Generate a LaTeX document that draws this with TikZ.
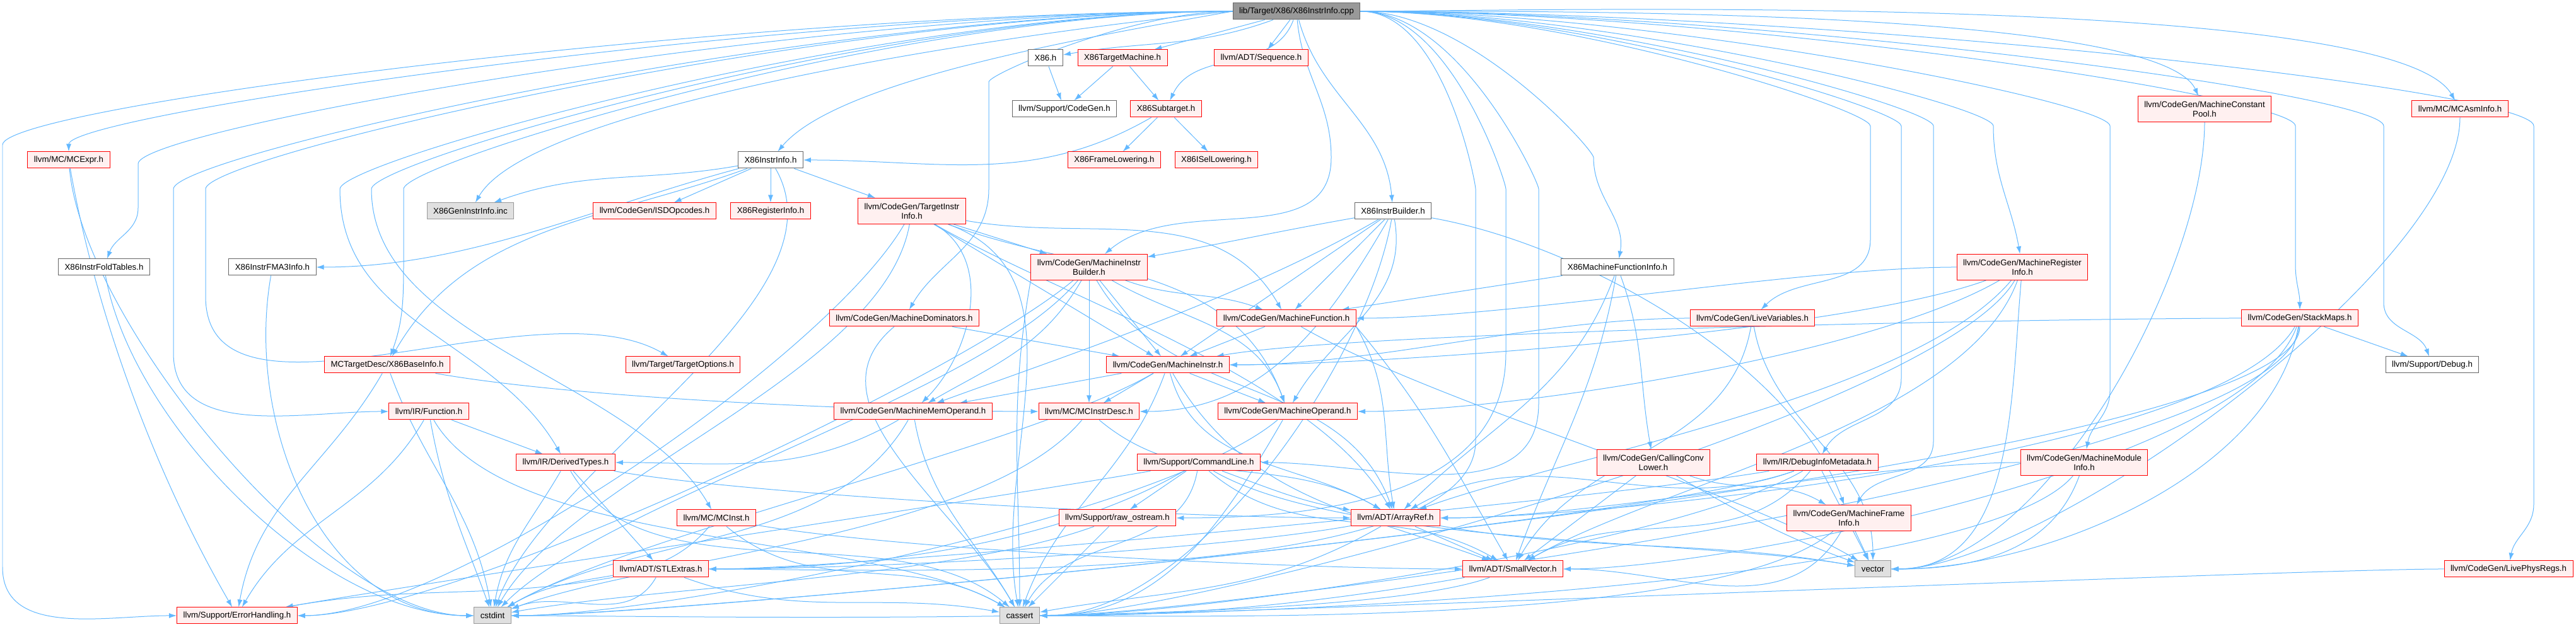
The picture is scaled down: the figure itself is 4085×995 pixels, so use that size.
\documentclass[tikz,border=0pt]{standalone}
\usepackage{fontspec}
\newfontfamily\doxfont{Liberation Sans}
\usepackage{tikz}
\usetikzlibrary{arrows.meta,positioning}
\pgfdeclarelayer{background}
\pgfsetlayers{background,main}
\definecolor{edgeblue}{HTML}{63B8FF}
\definecolor{hdrfill}{HTML}{FFF0F0}
\definecolor{sysfill}{HTML}{E0E0E0}
\definecolor{sysline}{HTML}{999999}
\definecolor{plainline}{HTML}{666666}
\definecolor{rootfill}{HTML}{999999}

\begin{document}
\begin{tikzpicture}[
    x=0.1pt, y=0.1pt, >={Latex[length=1.2pt,width=0.8pt]},
    filebox/.style={rectangle, font=\doxfont\fontsize{1.33}{1.5}\selectfont,
        inner xsep=1pt, inner ysep=0.2pt, minimum height=2.6pt,
        line width=0.1pt, align=center},
    hdrbox/.style={filebox, draw=red, fill=hdrfill},
    plainbox/.style={filebox, draw=plainline, fill=white},
    sysbox/.style={filebox, draw=sysline, fill=sysfill},
    srcbox/.style={filebox, draw=plainline, fill=rootfill},
    tallbox/.style={minimum height=4.1pt},
    incl/.style={->, draw=edgeblue, line width=0.1pt, max distance=24pt},
    dropl/.style={out=180, in=90, out looseness=1, in looseness=0.08, out max distance=400pt},
    dropr/.style={out=0, in=90, out looseness=1, in looseness=0.08, out max distance=400pt}
  ]
  \useasboundingbox (0,0) rectangle (4085,-995);

  % files
  \node[srcbox]   (root)     at (2056,-18)  {lib/Target/X86/X86InstrInfo.cpp};
  \node[plainbox] (x86h)     at (1658,-92)  {X86.h};
  \node[hdrbox]   (tm)       at (1780,-92)  {X86TargetMachine.h};
  \node[hdrbox]   (seq)      at (2000,-92)  {llvm/ADT/Sequence.h};
  \node[plainbox] (cgen)     at (1688,-173) {llvm/Support/CodeGen.h};
  \node[hdrbox]   (sub)      at (1849,-173) {X86Subtarget.h};
  \node[hdrbox,tallbox] (mcp) at (3496,-173) {llvm/CodeGen/MachineConstant\\Pool.h};
  \node[hdrbox]   (mcasm)    at (3901,-173) {llvm/MC/MCAsmInfo.h};
  \node[hdrbox]   (mcexpr)   at (109,-254)  {llvm/MC/MCExpr.h};
  \node[plainbox] (iinfo)    at (1222,-254) {X86InstrInfo.h};
  \node[hdrbox]   (frame)    at (1767,-254) {X86FrameLowering.h};
  \node[hdrbox]   (isel)     at (1929,-254) {X86ISelLowering.h};
  \node[sysbox]   (geninc)   at (746,-335)  {X86GenInstrInfo.inc};
  \node[hdrbox]   (isd)      at (1038,-335) {llvm/CodeGen/ISDOpcodes.h};
  \node[hdrbox]   (reginfo)  at (1222,-335) {X86RegisterInfo.h};
  \node[hdrbox,tallbox] (tii) at (1446,-335) {llvm/CodeGen/TargetInstr\\Info.h};
  \node[plainbox] (ibuild)   at (2209,-335) {X86InstrBuilder.h};
  \node[plainbox] (fold)     at (165,-424)  {X86InstrFoldTables.h};
  \node[plainbox] (fma3)     at (432,-424)  {X86InstrFMA3Info.h};
  \node[hdrbox,tallbox] (mib) at (1727,-424) {llvm/CodeGen/MachineInstr\\Builder.h};
  \node[plainbox] (mfi)      at (2565,-424) {X86MachineFunctionInfo.h};
  \node[hdrbox,tallbox] (mri) at (3207,-424) {llvm/CodeGen/MachineRegister\\Info.h};
  \node[hdrbox]   (mdom)     at (1434,-505) {llvm/CodeGen/MachineDominators.h};
  \node[hdrbox]   (mf)       at (2040,-505) {llvm/CodeGen/MachineFunction.h};
  \node[hdrbox]   (lv)       at (2779,-505) {llvm/CodeGen/LiveVariables.h};
  \node[hdrbox]   (smaps)    at (3647,-505) {llvm/CodeGen/StackMaps.h};
  \node[hdrbox]   (baseinfo) at (614,-579)  {MCTargetDesc/X86BaseInfo.h};
  \node[hdrbox]   (topt)     at (1083,-579) {llvm/Target/TargetOptions.h};
  \node[hdrbox]   (mi)       at (1852,-579) {llvm/CodeGen/MachineInstr.h};
  \node[plainbox] (debug)    at (3857,-579) {llvm/Support/Debug.h};
  \node[hdrbox]   (func)     at (680,-653)  {llvm/IR/Function.h};
  \node[hdrbox]   (mmo)      at (1448,-653) {llvm/CodeGen/MachineMemOperand.h};
  \node[hdrbox]   (mcid)     at (1727,-653) {llvm/MC/MCInstrDesc.h};
  \node[hdrbox]   (mo)       at (2042,-653) {llvm/CodeGen/MachineOperand.h};
  \node[hdrbox]   (dtypes)   at (897,-734)  {llvm/IR/DerivedTypes.h};
  \node[hdrbox]   (cl)       at (1901,-734) {llvm/Support/CommandLine.h};
  \node[hdrbox,tallbox] (ccl) at (2622,-734) {llvm/CodeGen/CallingConv\\Lower.h};
  \node[hdrbox]   (dim)      at (2882,-734) {llvm/IR/DebugInfoMetadata.h};
  \node[hdrbox,tallbox] (mmi) at (3305,-734) {llvm/CodeGen/MachineModule\\Info.h};
  \node[hdrbox]   (mcinst)   at (1136,-822) {llvm/MC/MCInst.h};
  \node[hdrbox]   (rawos)    at (1772,-822) {llvm/Support/raw\_ostream.h};
  \node[hdrbox]   (aref)     at (2213,-822) {llvm/ADT/ArrayRef.h};
  \node[hdrbox,tallbox] (mfinfo) at (2932,-822) {llvm/CodeGen/MachineFrame\\Info.h};
  \node[hdrbox]   (stl)      at (1048,-903) {llvm/ADT/STLExtras.h};
  \node[hdrbox]   (svec)     at (2399,-903) {llvm/ADT/SmallVector.h};
  \node[sysbox]   (vector)   at (2970,-903) {vector};
  \node[hdrbox]   (lpr)      at (3978,-903) {llvm/CodeGen/LivePhysRegs.h};
  \node[hdrbox]   (err)      at (376,-977)  {llvm/Support/ErrorHandling.h};
  \node[sysbox]   (cstdint)  at (781,-977)  {cstdint};
  \node[sysbox]   (cassert)  at (1617,-977) {cassert};

  \begin{pgfonlayer}{background}
  % includes of the source file, to the left
  \draw[incl] (root.west) to[dropl] (mcexpr);
  \draw[incl] (root.west) to[dropl] (4,-230) -- (4,-900) to[out=-90,in=180] (err);
  \draw[incl] (root.west) to[dropl] (219,-260) -- (219,-330) to[out=-90,in=70] (fold);
  \draw[incl] (root.west) to[dropl] (275,-300) -- (275,-560) to[out=-90,in=180] (func);
  \draw[incl] (root.west) to[dropl] (326,-300) -- (326,-470) to[out=-90,in=150] (topt);
  \draw[incl] (root.west) to[dropl] (539,-300) to[out=-90,in=120] (dtypes);
  \draw[incl] (root.west) to[dropl] (589,-300) to[out=-90,in=120] (mcinst);
  \draw[incl] (root.west) to[dropl] (640,-300) -- (640,-420) to[out=-90,in=70] (baseinfo);
  \draw[incl] (root.west) to[out=185,in=60,in looseness=0.4] (geninc);
  \draw[incl] (root.west) to[out=190,in=50,in looseness=0.5] (iinfo);
  \draw[incl] (root.west) to[dropl] (1568,-130) -- (1568,-300) to[out=-90,in=60] (mdom);
  % includes of the source file, downwards
  \draw[incl] (root) to[out=200,in=10] (x86h);
  \draw[incl] (root) -- (tm);
  \draw[incl] (root) -- (seq);
  \draw[incl] (root) to[out=-110,in=65] (sub);
  \draw[incl] (root) to[out=-75,in=95] (ibuild);
  \draw[incl] (root) to[out=-85,in=90] (2111,-250) to[out=-90,in=40] (mib);
  % includes of the source file, to the right
  \draw[incl] (root.east) to[dropr] (2340,-300) -- (2340,-700) to[out=-90,in=0] (stl);
  \draw[incl] (root.east) to[dropr] (2388,-300) -- (2388,-560) to[out=-90,in=0] (rawos);
  \draw[incl] (root.east) to[dropr] (2440,-300) -- (2440,-640) to[out=-90,in=0] (cl);
  \draw[incl] (root.east) to[dropr] (2527,-250) to[out=-90,in=80] (mfi);
  \draw[incl] (root.east) to[dropr] (2966,-200) -- (2966,-380) to[out=-90,in=45] (lv);
  \draw[incl] (root.east) to[dropr] (3015,-200) -- (3015,-600) to[out=-90,in=60] (dim);
  \draw[incl] (root.east) to[dropr] (3066,-200) -- (3066,-700) to[out=-90,in=60] (mfinfo);
  \draw[incl] (root.east) to[dropr] (3161,-200) to[out=-90,in=100] (mri);
  \draw[incl] (root.east) to[dropr] (3346,-200) -- (3346,-620) to[out=-90,in=80] (mmi);
  \draw[incl] (root.east) to[out=0,in=115,in looseness=0.3] (mcp);
  \draw[incl] (root.east) to[dropr] (3640,-200) -- (3640,-420) to[out=-90,in=90] (smaps);
  \draw[incl] (root.east) to[dropr] (3780,-200) -- (3780,-480) to[out=-90,in=110] (debug);
  \draw[incl] (root.east) to[out=0,in=120,in looseness=0.3] (mcasm);
  \draw[incl] (root.east) to[dropr] (4018,-200) -- (4018,-800) to[out=-90,in=80] (lpr);

  % target headers
  \draw[incl] (x86h) -- (cgen);
  \draw[incl] (tm) -- (cgen);
  \draw[incl] (tm) -- (sub);
  \draw[incl] (sub) -- (frame);
  \draw[incl] (sub) -- (isel);
  \draw[incl] (sub) to[out=-150,in=0] (iinfo);
  \draw[incl] (iinfo) to[out=190,in=20] (geninc);
  \draw[incl] (iinfo) -- (isd);
  \draw[incl] (iinfo) -- (reginfo);
  \draw[incl] (iinfo) -- (tii);
  \draw[incl] (iinfo) to[out=195,in=0] (fma3);
  \draw[incl] (iinfo) to[out=200,in=60] (baseinfo);
  \draw[incl] (iinfo) to[out=-60,in=70] (cstdint);
  \draw[incl] (ibuild) to[out=190,in=10] (mib);
  \draw[incl] (ibuild) -- (mf);
  \draw[incl] (ibuild) -- (mi);
  \draw[incl] (ibuild) to[out=-80,in=60] (mo);
  \draw[incl] (ibuild) to[out=-150,in=20] (mmo);
  \draw[incl] (ibuild) to[out=-120,in=0] (mcid);
  \draw[incl] (ibuild) to[out=-10,in=110] (mfinfo);
  \draw[incl] (ibuild) to[out=-100,in=0] (cassert);
  \draw[incl] (mfi) -- (mf);
  \draw[incl] (mfi) to[out=-70,in=100] (ccl);
  \draw[incl] (mfi) to[out=-100,in=70] (svec);
  \draw[incl] (mfi) to[out=-110,in=45] (aref);
  \draw[incl] (baseinfo) to[out=-10,in=180] (mcid);
  \draw[incl] (baseinfo) to[out=-120,in=80] (err);
  \draw[incl] (baseinfo) to[out=-70,in=100] (cstdint);
  \draw[incl] (fold) to[out=-80,in=180] (cstdint);
  \draw[incl] (fma3) to[out=-100,in=180] (cstdint);
  \draw[incl] (mcexpr) to[out=-80,in=120] (err);
  \draw[incl] (mcexpr) to[out=-85,in=180] (cstdint);

  % codegen headers
  \draw[incl] (tii) -- (mib);
  \draw[incl] (tii) -- (mi);
  \draw[incl] (tii) to[out=-10,in=120] (mf);
  \draw[incl] (tii) to[out=-20,in=110] (mo);
  \draw[incl] (tii) to[out=-30,in=45] (mmo);
  \draw[incl] (tii) to[out=-30,in=120] (aref);
  \draw[incl] (tii) to[out=-120,in=0] (err);
  \draw[incl] (tii) to[out=-100,in=60] (cstdint);
  \draw[incl] (tii) to[out=-20,in=100] (cassert);
  \draw[incl] (mib) to[out=-20,in=160] (mf);
  \draw[incl] (mib) -- (mi);
  \draw[incl] (mib) to[out=-30,in=110] (mo);
  \draw[incl] (mib) to[out=-120,in=30] (mmo);
  \draw[incl] (mib) -- (mcid);
  \draw[incl] (mib) to[out=-60,in=110] (aref);
  \draw[incl] (mib) to[out=-140,in=0] (err);
  \draw[incl] (mib) to[out=-130,in=45] (cstdint);
  \draw[incl] (mib.south west) to[out=-100,in=90] (cassert);
  \draw[incl] (mri) to[out=180,in=0] (mf);
  \draw[incl] (mri) to[out=-160,in=0] (mi);
  \draw[incl] (mri) to[out=-150,in=0] (mo);
  \draw[incl] (mri) to[out=-130,in=20] (aref);
  \draw[incl] (mri) to[out=-110,in=30] (svec);
  \draw[incl] (mri) to[out=-95,in=0] (vector);
  \draw[incl] (mri) to[out=-120,in=0] (cassert);
  \draw[incl] (mdom) -- (mi);
  \draw[incl] (mdom) to[out=-140,in=120] (cassert);
  \draw[incl] (mf) -- (mi);
  \draw[incl] (mf.south east) to[out=-60,in=100] (aref);
  \draw[incl] (mf.south east) to[out=-50,in=120] (svec);
  \draw[incl] (mf) to[out=-30,in=150] (vector);
  \draw[incl] (mi) -- (mmo);
  \draw[incl] (mi) -- (mcid);
  \draw[incl] (mi) -- (mo);
  \draw[incl] (mi) to[out=-75,in=150] (aref);
  \draw[incl] (mi) to[out=-60,in=160] (svec);
  \draw[incl] (mi) to[out=-110,in=70] (cassert);
  \draw[incl] (mi) to[out=-150,in=30] (cstdint);
  \draw[incl] (mo) to[out=-120,in=0] (cassert);
  \draw[incl] (mo) to[out=-140,in=0] (cstdint);
  \draw[incl] (mmo) to[out=-150,in=0] (dtypes);
  \draw[incl] (mmo) to[out=-120,in=30] (cstdint);
  \draw[incl] (mmo) to[out=-80,in=120] (cassert);
  \draw[incl] (mcid) to[out=-130,in=20] (cstdint);
  \draw[incl] (mcid) to[out=-40,in=150] (aref);
  \draw[incl] (lv) to[out=180,in=0] (mi);
  \draw[incl] (lv) to[out=-100,in=60] (svec);
  \draw[incl] (lv) to[out=-80,in=90] (vector);
  \draw[incl] (smaps) to[out=180,in=10] (mi);
  \draw[incl] (smaps) -- (debug);
  \draw[incl] (smaps) to[out=-110,in=0] (svec);
  \draw[incl] (smaps) to[out=-120,in=0] (aref);
  \draw[incl] (smaps) to[out=-100,in=0] (vector);
  \draw[incl] (smaps) to[out=-95,in=0] (cassert);
  \draw[incl] (smaps) to[out=-90,in=0] (cstdint);
  \draw[incl] (mcp) to[out=-90,in=0] (vector);
  \draw[incl] (mcasm) to[out=-90,in=0] (vector);
  \draw[incl] (lpr) to[out=180,in=0] (cassert);
  \draw[incl] (mmi) to[out=180,in=0] (aref);
  \draw[incl] (mmi) to[out=-110,in=0] (vector);
  \draw[incl] (mmi) to[out=-130,in=0] (cassert);
  \draw[incl] (ccl) -- (svec);
  \draw[incl] (ccl) to[out=-20,in=150] (mfinfo);
  \draw[incl] (ccl) to[out=-30,in=160] (vector);
  \draw[incl] (mfinfo) -- (vector);
  \draw[incl] (mfinfo) to[out=-120,in=0] (svec);
  \draw[incl] (mfinfo) to[out=-140,in=0] (cassert);
  \draw[incl] (dim) to[out=-160,in=30] (aref);
  \draw[incl] (dim) to[out=-130,in=30] (svec);
  \draw[incl] (dim) to[out=-170,in=0] (stl);
  \draw[incl] (dim) -- (vector);
  \draw[incl] (dim) to[out=-150,in=0] (cassert);
  \draw[incl] (dim) to[out=-160,in=0] (cstdint);

  % IR and support headers
  \draw[incl] (func) -- (dtypes);
  \draw[incl] (func) to[out=-80,in=110] (cstdint);
  \draw[incl] (func) to[out=-60,in=150] (cassert);
  \draw[incl] (func) to[out=-120,in=60] (err);
  \draw[incl] (dtypes) -- (stl);
  \draw[incl] (dtypes) to[out=-120,in=80] (cstdint);
  \draw[incl] (dtypes) to[out=-10,in=180] (aref);
  \draw[incl] (dtypes) to[out=-60,in=140] (cassert);
  \draw[incl] (mcinst) to[out=-10,in=180] (svec);
  \draw[incl] (mcinst) to[out=-130,in=30] (cstdint);
  \draw[incl] (mcinst) to[out=-40,in=150] (cassert);
  \draw[incl] (cl) -- (rawos);
  \draw[incl] (cl) to[out=-150,in=0] (stl);
  \draw[incl] (cl) to[out=-40,in=150] (svec);
  \draw[incl] (cl) to[out=-20,in=170] (aref);
  \draw[incl] (cl) to[out=190,in=10] (err);
  \draw[incl] (cl) to[out=-100,in=60] (cassert);
  \draw[incl] (cl) to[out=-30,in=170] (vector);
  \draw[incl] (rawos) -- (cassert);
  \draw[incl] (rawos) to[out=-160,in=10] (cstdint);
  \draw[incl] (aref) -- (svec);
  \draw[incl] (aref) to[out=190,in=0] (stl);
  \draw[incl] (aref) to[out=-150,in=10] (cassert);
  \draw[incl] (aref) to[out=-10,in=170] (vector);
  \draw[incl] (stl) to[out=190,in=10] (err);
  \draw[incl] (stl) to[out=-120,in=20] (cstdint);
  \draw[incl] (stl) to[out=-20,in=170] (cassert);
  \draw[incl] (svec) to[out=-170,in=0] (cassert);
  \draw[incl] (svec) to[out=-160,in=0] (cstdint);
  \end{pgfonlayer}
\end{tikzpicture}
\end{document}
